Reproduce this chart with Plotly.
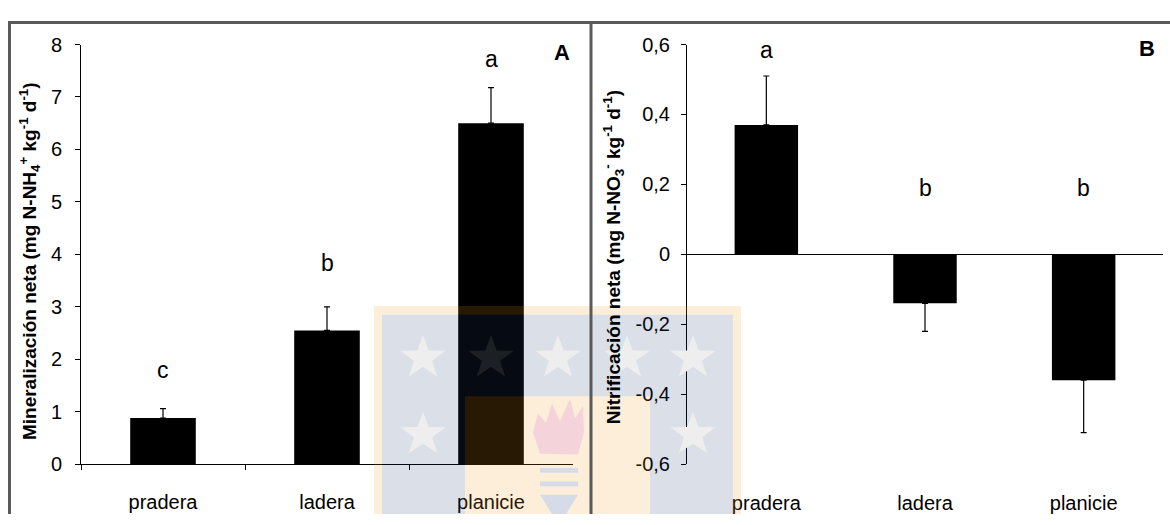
import math
import plotly.graph_objects as go

# Sites sampled
sitios = ["pradera", "ladera", "planicie"]

# Net mineralization (mg N-NH4+ kg-1 d-1) and standard errors
mineralizacion = [0.88, 2.55, 6.50]
mineralizacion_ee = [0.18, 0.45, 0.68]
letras_min = ["c", "b", "a"]
letras_min_y = [1.80, 3.83, 7.73]

# Net nitrification (mg N-NO3- kg-1 d-1) and standard errors
nitrificacion = [0.37, -0.14, -0.36]
nitrificacion_ee = [0.14, 0.08, 0.15]
letras_nit = ["a", "b", "b"]
letras_nit_y = [0.585, 0.19, 0.19]

# Axis ticks
ticks_min = [0, 1, 2, 3, 4, 5, 6, 7, 8]
ticks_nit = [-0.6, -0.4, -0.2, 0, 0.2, 0.4, 0.6]
ticks_nit_txt = ["-0,6", "-0,4", "-0,2", "0", "0,2", "0,4", "0,6"]

W, H = 1170, 525
FONT = "Liberation Sans, Arial, sans-serif"


def px(x, y):
    """Pixel position -> paper coordinates."""
    return x / W, 1 - y / H


def err_up(vals, errs):
    return [e if v >= 0 else 0 for v, e in zip(vals, errs)]


def err_down(vals, errs):
    return [e if v < 0 else 0 for v, e in zip(vals, errs)]


fig = go.Figure()

fig.add_trace(go.Bar(
    x=sitios, y=mineralizacion, width=0.4,
    marker=dict(color="black", line=dict(width=0)),
    error_y=dict(type="data", symmetric=False,
                 array=err_up(mineralizacion, mineralizacion_ee),
                 arrayminus=err_down(mineralizacion, mineralizacion_ee),
                 color="black", thickness=1.2, width=3),
    xaxis="x", yaxis="y", showlegend=False,
))

fig.add_trace(go.Bar(
    x=sitios, y=nitrificacion, width=0.4,
    marker=dict(color="black", line=dict(width=0)),
    error_y=dict(type="data", symmetric=False,
                 array=err_up(nitrificacion, nitrificacion_ee),
                 arrayminus=err_down(nitrificacion, nitrificacion_ee),
                 color="black", thickness=1.2, width=3),
    xaxis="x2", yaxis="y2", showlegend=False,
))

y_dom = [1 - 473 / H, 1 - 35 / H]

axis_common = dict(
    showgrid=False, showline=True, linecolor="black", linewidth=1,
    ticks="outside", ticklen=5, tickcolor="black", tickwidth=1,
    tickfont=dict(family=FONT, size=20, color="black"),
)

fig.update_layout(
    width=W, height=H,
    margin=dict(l=0, r=0, t=0, b=0),
    paper_bgcolor="white", plot_bgcolor="rgba(0,0,0,0)",
    bargap=0.6,
    xaxis=dict(axis_common, domain=[81 / W, 573 / W], anchor="y",
               range=[-0.5, 2.5], tickson="boundaries", zeroline=False,
               ticklabelstandoff=20),
    yaxis=dict(axis_common, domain=y_dom, anchor="x", range=[0, 8],
               tickvals=ticks_min, zeroline=False, ticklabelstandoff=9),
    xaxis2=dict(axis_common, domain=[687 / W, 1163 / W], anchor="y2",
                range=[-0.5, 2.5], showline=False,
                tickcolor="rgba(0,0,0,0)", zeroline=False,
                ticklabelstandoff=16),
    yaxis2=dict(axis_common, domain=y_dom, anchor="x2",
                range=[-0.6, 0.6], tickvals=ticks_nit, ticktext=ticks_nit_txt,
                zeroline=True, zerolinecolor="black", zerolinewidth=1,
                ticklabelstandoff=7),
)

annotations = []
for s, t, yv in zip(sitios, letras_min, letras_min_y):
    annotations.append(dict(x=s, y=yv, xref="x", yref="y", text=t,
                            showarrow=False, yanchor="middle",
                            font=dict(family=FONT, size=23, color="black")))
for s, t, yv in zip(sitios, letras_nit, letras_nit_y):
    annotations.append(dict(x=s, y=yv, xref="x2", yref="y2", text=t,
                            showarrow=False, yanchor="middle",
                            font=dict(family=FONT, size=23, color="black")))

# Panel letters
for lbl, (xx, yy) in (("A", px(562, 43)), ("B", px(1147, 39))):
    annotations.append(dict(x=xx, y=yy, xref="paper", yref="paper",
                            text="<b>%s</b>" % lbl, showarrow=False,
                            xanchor="center", yanchor="middle",
                            font=dict(family=FONT, size=22, color="black")))

# Y axis titles
tx, ty = px(29, 261)
annotations.append(dict(
    x=tx, y=ty, xref="paper", yref="paper", textangle=-90, showarrow=False,
    xanchor="center", yanchor="middle",
    text="<b>Mineralización neta (mg N-NH<sub>4</sub><sup>+</sup> kg<sup>-1</sup> d<sup>-1</sup>)</b>",
    font=dict(family=FONT, size=19, color="black")))
tx, ty = px(613, 257)
annotations.append(dict(
    x=tx, y=ty, xref="paper", yref="paper", textangle=-90, showarrow=False,
    xanchor="center", yanchor="middle",
    text="<b>Nitrificación neta (mg N-NO<sub>3</sub><sup>-</sup> kg<sup>-1</sup> d<sup>-1</sup>)</b>",
    font=dict(family=FONT, size=19, color="black")))

fig.update_layout(annotations=annotations)

shapes = []


def rect(x0, y0, x1, y1, color, opacity=1.0, layer="above"):
    a0 = px(x0, y0)
    a1 = px(x1, y1)
    shapes.append(dict(type="rect", xref="paper", yref="paper",
                       x0=a0[0], y0=a0[1], x1=a1[0], y1=a1[1],
                       fillcolor=color, opacity=opacity, line=dict(width=0),
                       layer=layer))


def poly(points, color, opacity=1.0):
    d = "M " + " L ".join("%.5f,%.5f" % px(x, y) for x, y in points) + " Z"
    shapes.append(dict(type="path", xref="paper", yref="paper", path=d,
                       fillcolor=color, opacity=opacity, line=dict(width=0),
                       layer="above"))


def star(cx, cy, r, color):
    pts = []
    for i in range(10):
        ang = -math.pi / 2 + i * math.pi / 5
        rr = r if i % 2 == 0 else r * 0.4
        pts.append((cx + rr * math.cos(ang), cy + rr * math.sin(ang)))
    poly(pts, color)


# Faint university emblem in the background
NAVY = "rgb(29,59,118)"
GOLD = "rgb(242,151,30)"
A = 0.165
rect(374, 308, 741, 317, GOLD, A)
rect(374, 317, 382, 525, GOLD, A)
rect(733, 317, 741, 525, GOLD, A)
rect(382, 317, 733, 402, NAVY, A)
rect(382, 402, 465, 525, NAVY, A)
rect(650, 402, 733, 525, NAVY, A)
rect(465, 402, 650, 525, GOLD, A)
for sx, sy in ((423, 362), (558, 362), (627, 362), (693, 362), (423, 442), (693, 442)):
    star(sx, sy, 24, "#eeeeee")
star(491, 362, 24, "#1c1f24")
# flame
poly([(540, 462), (533, 440), (538, 420), (546, 430), (552, 410), (560, 428),
      (570, 405), (575, 425), (583, 412), (584, 440), (578, 463)], "#f5d3da")
# torch
rect(540, 477, 578, 482, "#d5dce8")
rect(540, 491, 578, 496, "#d5dce8")
poly([(540, 505), (578, 505), (566, 525), (552, 525)], "#d5dce8")

# Outer frame and panel divider
FRAME = "#5a5a5a"
for (x0, y0, x1, y1) in ((8, 12, W, 12), (9.5, 11, 9.5, H), (591, 11, 591, H)):
    a0 = px(x0, y0)
    a1 = px(x1, y1)
    shapes.append(dict(type="line", xref="paper", yref="paper",
                       x0=a0[0], y0=a0[1], x1=a1[0], y1=a1[1],
                       line=dict(color=FRAME, width=3), layer="above"))

fig.update_layout(shapes=shapes)

fig.write_html("out.html")
